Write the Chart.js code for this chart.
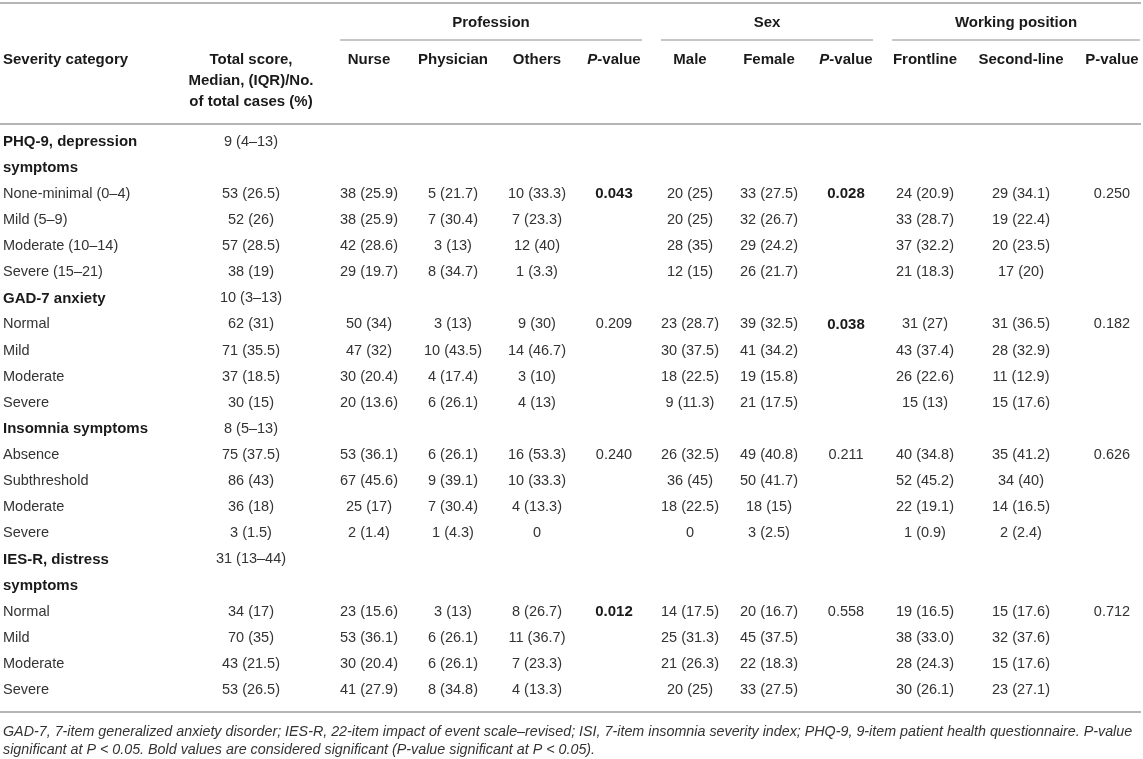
<!DOCTYPE html>
<html>
<head>
<meta charset="utf-8">
<script src="https://cdn.jsdelivr.net/npm/chart.js@4.4.1/dist/chart.umd.min.js"></script>
<style>
  html, body { margin: 0; padding: 0; background: #fff; }
  #wrap { width: 1143px; height: 759px; }
</style>
</head>
<body>
<div id="wrap"><canvas id="severityTable" width="1143" height="759"></canvas></div>
<script>
// ---- table values (one entry per printed line) ----
const severity = [
  'PHQ-9, depression', 'symptoms', 'None-minimal (0–4)', 'Mild (5–9)', 'Moderate (10–14)', 'Severe (15–21)',
  'GAD-7 anxiety', 'Normal', 'Mild', 'Moderate', 'Severe',
  'Insomnia symptoms', 'Absence', 'Subthreshold', 'Moderate', 'Severe',
  'IES-R, distress', 'symptoms', 'Normal', 'Mild', 'Moderate', 'Severe'
];
const headingLines = [0, 1, 6, 11, 16, 17];

const totalScore = ['9 (4–13)', '', '53 (26.5)', '52 (26)', '57 (28.5)', '38 (19)',
  '10 (3–13)', '62 (31)', '71 (35.5)', '37 (18.5)', '30 (15)',
  '8 (5–13)', '75 (37.5)', '86 (43)', '36 (18)', '3 (1.5)',
  '31 (13–44)', '', '34 (17)', '70 (35)', '43 (21.5)', '53 (26.5)'];
const nurse = ['', '', '38 (25.9)', '38 (25.9)', '42 (28.6)', '29 (19.7)',
  '', '50 (34)', '47 (32)', '30 (20.4)', '20 (13.6)',
  '', '53 (36.1)', '67 (45.6)', '25 (17)', '2 (1.4)',
  '', '', '23 (15.6)', '53 (36.1)', '30 (20.4)', '41 (27.9)'];
const physician = ['', '', '5 (21.7)', '7 (30.4)', '3 (13)', '8 (34.7)',
  '', '3 (13)', '10 (43.5)', '4 (17.4)', '6 (26.1)',
  '', '6 (26.1)', '9 (39.1)', '7 (30.4)', '1 (4.3)',
  '', '', '3 (13)', '6 (26.1)', '6 (26.1)', '8 (34.8)'];
const others = ['', '', '10 (33.3)', '7 (23.3)', '12 (40)', '1 (3.3)',
  '', '9 (30)', '14 (46.7)', '3 (10)', '4 (13)',
  '', '16 (53.3)', '10 (33.3)', '4 (13.3)', '0',
  '', '', '8 (26.7)', '11 (36.7)', '7 (23.3)', '4 (13.3)'];
const pProfession = ['', '', '0.043', '', '', '', '', '0.209', '', '', '', '', '0.240', '', '', '', '', '', '0.012', '', '', ''];
const male = ['', '', '20 (25)', '20 (25)', '28 (35)', '12 (15)',
  '', '23 (28.7)', '30 (37.5)', '18 (22.5)', '9 (11.3)',
  '', '26 (32.5)', '36 (45)', '18 (22.5)', '0',
  '', '', '14 (17.5)', '25 (31.3)', '21 (26.3)', '20 (25)'];
const female = ['', '', '33 (27.5)', '32 (26.7)', '29 (24.2)', '26 (21.7)',
  '', '39 (32.5)', '41 (34.2)', '19 (15.8)', '21 (17.5)',
  '', '49 (40.8)', '50 (41.7)', '18 (15)', '3 (2.5)',
  '', '', '20 (16.7)', '45 (37.5)', '22 (18.3)', '33 (27.5)'];
const pSex = ['', '', '0.028', '', '', '', '', '0.038', '', '', '', '', '0.211', '', '', '', '', '', '0.558', '', '', ''];
const frontline = ['', '', '24 (20.9)', '33 (28.7)', '37 (32.2)', '21 (18.3)',
  '', '31 (27)', '43 (37.4)', '26 (22.6)', '15 (13)',
  '', '40 (34.8)', '52 (45.2)', '22 (19.1)', '1 (0.9)',
  '', '', '19 (16.5)', '38 (33.0)', '28 (24.3)', '30 (26.1)'];
const secondLine = ['', '', '29 (34.1)', '19 (22.4)', '20 (23.5)', '17 (20)',
  '', '31 (36.5)', '28 (32.9)', '11 (12.9)', '15 (17.6)',
  '', '35 (41.2)', '34 (40)', '14 (16.5)', '2 (2.4)',
  '', '', '15 (17.6)', '32 (37.6)', '15 (17.6)', '23 (27.1)'];
const pWorking = ['', '', '0.250', '', '', '', '', '0.182', '', '', '', '', '0.626', '', '', '', '', '', '0.712', '', '', ''];

const columnHeads = [
  ['Severity category'], ['Total score,', 'Median, (IQR)/No.', 'of total cases (%)'],
  ['Nurse'], ['Physician'], ['Others'], ['*P*-value'],
  ['Male'], ['Female'], ['*P*-value'],
  ['Frontline'], ['Second-line'], ['P-value']
];
const groupHeads = ['Profession', 'Sex', 'Working position'];

const footnotes = [
  'GAD-7, 7-item generalized anxiety disorder; IES-R, 22-item impact of event scale–revised; ISI, 7-item insomnia severity index; PHQ-9, 9-item patient health questionnaire. P-value',
  'significant at P < 0.05. Bold values are considered significant (P-value significant at P < 0.05).'
];

// ---- layout (x in page units, y in line units) ----
const columns = [
  { values: severity, x: 3, align: 'left' },
  { values: totalScore, x: 251 },
  { values: nurse, x: 369 },
  { values: physician, x: 453 },
  { values: others, x: 537 },
  { values: pProfession, x: 614, pValue: true },
  { values: male, x: 690 },
  { values: female, x: 769 },
  { values: pSex, x: 846, pValue: true },
  { values: frontline, x: 925 },
  { values: secondLine, x: 1021 },
  { values: pWorking, x: 1112, pValue: true }
];
const groups = [
  { from: 340, to: 642 },
  { from: 661, to: 873 },
  { from: 892, to: 1140 }
];
const Y = {
  min: -5.433, max: 23.648,
  topRule: -5.32, groupTitle: -4.55, groupRule: -3.90,
  headLines: [-3.15, -2.33, -1.54], headRule: -0.68,
  bottomRule: 21.85, notes: [22.63, 23.32]
};

const FONT = '"Liberation Sans", Arial, Helvetica, sans-serif';
const BODY = '14.5px ' + FONT;
const BOLD = 'bold 15px ' + FONT;
const NOTE = 'italic 14.3px ' + FONT;

const datasets = columns.map((col, ci) => ({
  label: 'col' + ci,
  data: col.values
    .map((v, r) => ({ x: col.x, y: r, text: v }))
    .filter(d => d.text !== ''),
  align: col.align || 'center',
  pValue: !!col.pValue,
  pointRadius: 0,
  pointHoverRadius: 0
}));

function drawMixed(ctx, text, x, y, align) {
  // '*P*-value' -> italic P followed by regular text
  const parts = text.split('*').filter(s => s !== '');
  const italic = text.startsWith('*');
  const fonts = parts.map((p, i) => (italic && i === 0 ? 'italic ' : '') + BOLD);
  let total = 0;
  parts.forEach((p, i) => { ctx.font = fonts[i]; total += ctx.measureText(p).width; });
  let cx = align === 'left' ? x : x - total / 2;
  ctx.textAlign = 'left';
  parts.forEach((p, i) => {
    ctx.font = fonts[i];
    ctx.fillText(p, cx, y);
    cx += ctx.measureText(p).width;
  });
}

const tablePlugin = {
  id: 'tablePlugin',
  afterDatasetsDraw(chart) {
    const { ctx, scales: { x, y } } = chart;
    ctx.save();
    ctx.textBaseline = 'middle';

    // horizontal rules
    ctx.strokeStyle = '#b5b5b5';
    const rule = (x0, x1, yv, w) => {
      ctx.lineWidth = w;
      ctx.beginPath();
      ctx.moveTo(x.getPixelForValue(x0), y.getPixelForValue(yv));
      ctx.lineTo(x.getPixelForValue(x1), y.getPixelForValue(yv));
      ctx.stroke();
    };
    rule(0, 1141, Y.topRule, 2);
    rule(0, 1141, Y.headRule, 2);
    rule(0, 1141, Y.bottomRule, 2);
    groups.forEach(g => rule(g.from, g.to, Y.groupRule, 1.5));

    // group titles
    ctx.fillStyle = '#1a1a1a';
    ctx.font = BOLD;
    ctx.textAlign = 'center';
    groups.forEach((g, i) => {
      ctx.fillText(groupHeads[i], x.getPixelForValue((g.from + g.to) / 2), y.getPixelForValue(Y.groupTitle));
    });

    // column heads
    columnHeads.forEach((lines, ci) => {
      const col = columns[ci];
      lines.forEach((t, li) => {
        drawMixed(ctx, t, x.getPixelForValue(col.x), y.getPixelForValue(Y.headLines[li]), col.align || 'center');
      });
    });

    // body cells
    chart.data.datasets.forEach((ds, di) => {
      const meta = chart.getDatasetMeta(di);
      meta.data.forEach((pt, i) => {
        const cell = ds.data[i];
        let bold = false;
        if (di === 0) bold = headingLines.includes(cell.y);
        if (ds.pValue) bold = parseFloat(cell.text) < 0.05;
        ctx.font = bold ? BOLD : BODY;
        ctx.fillStyle = bold ? '#1a1a1a' : '#333';
        ctx.textAlign = ds.align;
        ctx.fillText(cell.text, pt.x, pt.y);
      });
    });

    // footnotes
    ctx.font = NOTE;
    ctx.fillStyle = '#333';
    ctx.textAlign = 'left';
    footnotes.forEach((t, i) => {
      ctx.fillText(t, x.getPixelForValue(3), y.getPixelForValue(Y.notes[i]));
    });
    ctx.restore();
  }
};

new Chart(document.getElementById('severityTable'), {
  type: 'scatter',
  data: { datasets },
  options: {
    responsive: false,
    animation: false,
    events: [],
    layout: { padding: 0 },
    plugins: { legend: { display: false }, tooltip: { enabled: false } },
    scales: {
      x: { type: 'linear', min: 0, max: 1143, display: false },
      y: { type: 'linear', min: Y.min, max: Y.max, reverse: true, display: false }
    }
  },
  plugins: [tablePlugin]
});
</script>
</body>
</html>
